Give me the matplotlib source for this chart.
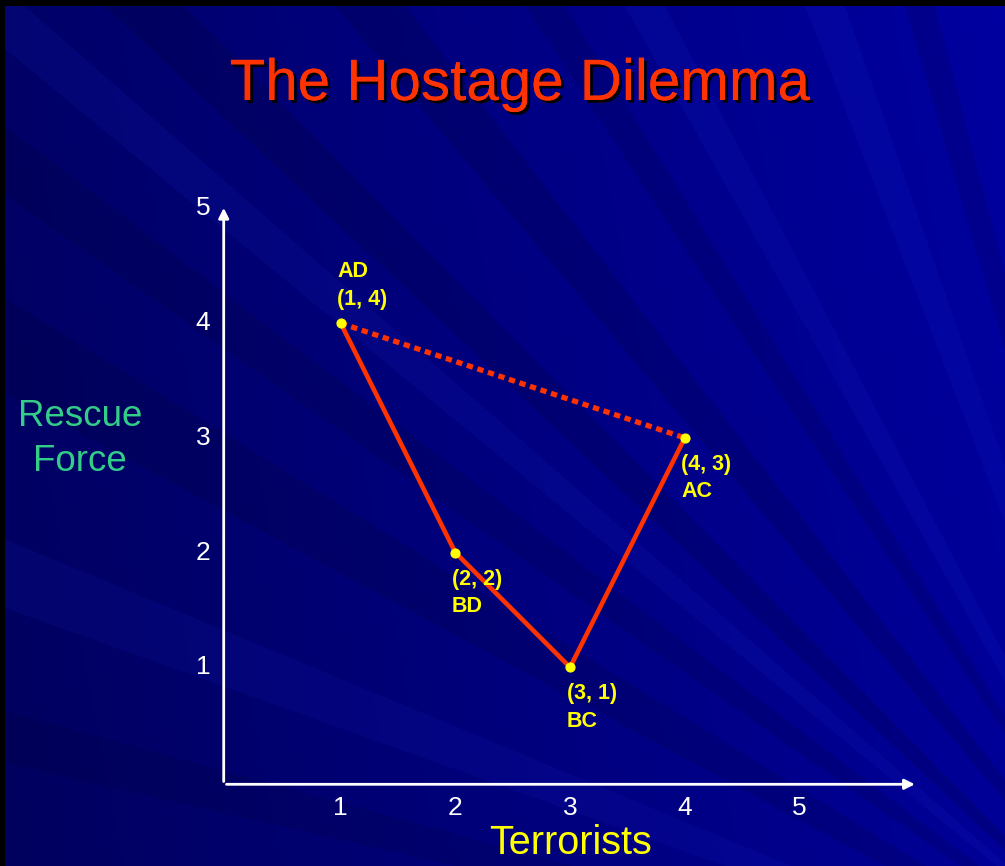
import numpy as np
import matplotlib.pyplot as plt
import matplotlib.patheffects as pe
from matplotlib.patches import Polygon

# data
x_vals = [1, 2, 3, 4]
y_vals = [4, 2, 1, 3]
names = ["AD", "BD", "BC", "AC"]
ticks = [1, 2, 3, 4, 5]
title = "The Hostage Dilemma"
xlabel = "Terrorists"
ylabel = "Rescue\nForce"

W, H = 1005, 866
fig = plt.figure(figsize=(W / 100, H / 100), dpi=100, facecolor="black")

# background: blue gradient with streaks from a point off the lower right
bg = fig.add_axes([5 / W, 0, 1 - 5 / W, 1 - 6 / H])
bg.set_axis_off()
gx = np.linspace(0, 1, 300)
gy = np.linspace(0, 1, 300)
GX, GY = np.meshgrid(gx, gy)
shade = 0.5 + 0.3 * GX + 0.05 * GY
img = np.zeros((300, 300, 3))
img[..., 2] = np.clip(shade * 0.74, 0, 1)
bg.imshow(img, extent=[0, 1, 0, 1], origin="lower", aspect="auto")
src = (1.2, -0.2)
# (edge, start, end, alpha, colour)  edge "t" = top, "l" = left
rays = [("t", 0.10, 0.18, 0.12, "black"), ("t", 0.33, 0.40, 0.12, "black"),
        ("t", 0.52, 0.56, 0.10, "black"), ("t", 0.62, 0.66, 0.08, "#3344ff"),
        ("t", 0.80, 0.84, 0.08, "#3344ff"), ("t", 0.90, 0.93, 0.10, "black"),
        ("l", 0.55, 0.66, 0.10, "black"), ("l", 0.78, 0.86, 0.10, "black"),
        ("l", 0.30, 0.38, 0.07, "#3344ff"), ("l", 0.12, 0.18, 0.08, "black"),
        ("l", 0.95, 1.02, 0.08, "#3344ff")]
for edge, a, b, alpha, col in rays:
    if edge == "t":
        e1, e2 = (a, 1.0), (b, 1.0)
    else:
        e1, e2 = (0.0, a), (0.0, b)
    far1 = (src[0] + (e1[0] - src[0]) * 1.5, src[1] + (e1[1] - src[1]) * 1.5)
    far2 = (src[0] + (e2[0] - src[0]) * 1.5, src[1] + (e2[1] - src[1]) * 1.5)
    bg.add_patch(Polygon([src, far1, far2], closed=True, color=col, alpha=alpha, lw=0))
bg.set_xlim(0, 1)
bg.set_ylim(0, 1)

# main axes: 1 unit = 114.7 px, origin at (226, 782)
unit = 114.7
x0, y0 = 226, H - 782
xmax, ymax = 6.1, 5.1
ax = fig.add_axes([x0 / W, y0 / H, xmax * unit / W, ymax * unit / H])
ax.set_xlim(0, xmax)
ax.set_ylim(0, ymax)
ax.set_axis_off()
ax.patch.set_alpha(0)

arrow = dict(arrowstyle="-|>,head_length=0.6,head_width=0.3", color="white", lw=2)
ax.annotate("", xy=(6.03, -0.02), xytext=(-0.02, -0.02), arrowprops=arrow, annotation_clip=False)
ax.annotate("", xy=(-0.02, 5.03), xytext=(-0.02, -0.02), arrowprops=arrow, annotation_clip=False)

tick_font = dict(color="white", fontsize=19, family=["Liberation Sans", "DejaVu Sans"])
for t in ticks:
    ax.text(t, -0.23, str(t), ha="center", va="center", **tick_font)
    ax.text(-0.2, t, str(t), ha="center", va="center", **tick_font)

# payoff lines
ax.plot(x_vals, y_vals, color="#ff3300", lw=3.3, solid_capstyle="round", zorder=3)
ax.plot([x_vals[0], x_vals[-1]], [y_vals[0], y_vals[-1]], color="#ff3300", lw=3.8,
        linestyle=(0, (1.2, 0.9)), dash_capstyle="butt", zorder=3)
ax.scatter(x_vals, y_vals, s=40, color="#ffff00", zorder=4)

lab_font = dict(color="#ffff00", fontsize=15.5, fontweight="bold",
                family=["Liberation Sans", "DejaVu Sans"], ha="left", va="center",
                linespacing=1.4)
offsets = {"AD": (-0.03, 0.33), "BD": (-0.03, -0.35), "BC": (-0.03, -0.35), "AC": (-0.03, -0.35)}
for xv, yv, nm in zip(x_vals, y_vals, names):
    dx, dy = offsets[nm]
    coord = "(%d, %d)" % (xv, yv)
    txt = nm + "\n" + coord if nm == "AD" else coord + "\n" + nm
    ax.text(xv + dx, yv + dy, txt, **lab_font)

narrow = ["Liberation Sans Narrow", "Liberation Sans", "DejaVu Sans"]
fig.text(520 / W, 1 - 85 / H, title, color="#ff3300", fontsize=42, ha="center", va="center",
         family=narrow,
         path_effects=[pe.withSimplePatchShadow(offset=(2, -2), shadow_rgbFace="black", alpha=1), pe.Normal()])
fig.text(571 / W, 1 - 843 / H, xlabel, color="#ffff00", fontsize=28.5, ha="center", va="center",
         family=narrow)
fig.text(80 / W, 1 - 439 / H, ylabel, color="#33cc88", fontsize=26.5, ha="center", va="center",
         family=["Liberation Sans", "DejaVu Sans"], linespacing=1.35)

fig.savefig("out.png", dpi=100, facecolor=fig.get_facecolor())
